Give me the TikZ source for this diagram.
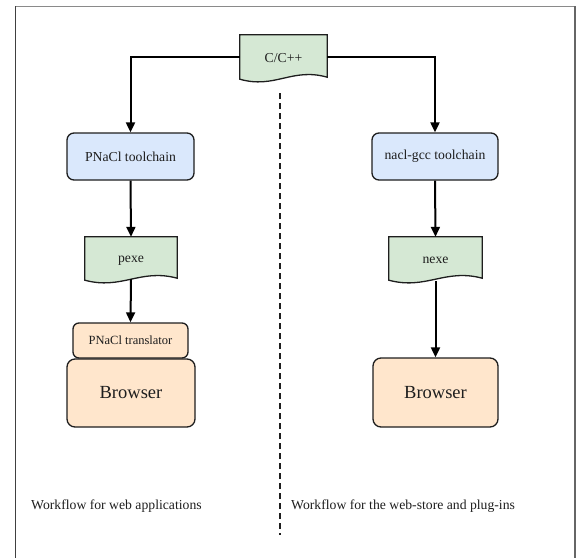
\documentclass[tikz,border=0pt]{standalone}
\usepackage{fontspec}
\setmainfont{Liberation Serif}
\usetikzlibrary{arrows.meta,calc}
\definecolor{docgreen}{HTML}{D5E8D4}
\definecolor{tcblue}{HTML}{DAE8FC}
\definecolor{brorange}{HTML}{FFE6CC}
\definecolor{edge}{HTML}{1E1E1E}
\definecolor{framegrey}{HTML}{8A8A8A}
\begin{document}
\begin{tikzpicture}[x=1pt,y=-1pt,
  base/.style={font=\fontsize{13.7}{15}\selectfont, text=edge, inner sep=0pt},
  docnode/.style={base},
  docdraw/.style={draw=edge, fill=docgreen, line width=1.3pt},
  tcbox/.style={base, draw=edge, fill=tcblue, line width=1.3pt, rounded corners=7pt},
  brbox/.style={base, draw=edge, fill=brorange, line width=1.3pt, rounded corners=8pt},
  arr/.style={line width=2pt, black, -{Triangle[length=10pt,width=9pt]}},
  caption/.style={base, anchor=west},
]
\useasboundingbox (0,0) rectangle (579,558);
% frame
\draw[framegrey, line width=1.8pt] (15,6.5) -- (575,6.5);
\draw[black!75, line width=1.6pt] (15.5,6) -- (15.5,558);
\draw[black!60, line width=1.6pt] (575,6) -- (575,558);
% dashed separator
\coordinate (dtop) at (280,93);
\coordinate (dbot) at (280,535);
\draw[edge, line width=1.4pt, dash pattern=on 6pt off 4pt] (dtop) -- (dbot);

\newcommand\docbody[1]{%
  \filldraw[docdraw] (#1.south west) -- (#1.north west) -- (#1.north east) -- ($(#1.south east)+(0,-2)$)
    .. controls ($(#1.south east)!0.4!(#1.south west)+(0,-12)$) and ($(#1.south west)!0.4!(#1.south east)+(0,10)$) .. (#1.south west) -- cycle;}

% nodes
\node[docnode, minimum width=87pt, minimum height=44pt] (cpp) at (283.5,57) {};
\docbody{cpp}
\node[base] at ([yshift=-1pt]cpp) {C/C++};

\node[tcbox, minimum width=127pt, minimum height=47pt] (pnacltc) at (130.5,156.5) {PNaCl toolchain};
\node[tcbox, minimum width=126pt, minimum height=47pt] (naclgcc) at (435,156.5) {nacl-gcc toolchain};

\node[docnode, minimum width=92pt, minimum height=43pt] (pexe) at (131,258.5) {};
\docbody{pexe}
\node[base] at ([yshift=-2pt]pexe) {pexe};
\node[docnode, minimum width=93pt, minimum height=43pt] (nexe) at (435.5,258.5) {};
\docbody{nexe}
\node[base] at ([yshift=-2pt]nexe) {nexe};

\node[brbox, minimum width=128pt, minimum height=68pt, font=\fontsize{18.5}{22}\selectfont] (browserL) at (131,393) {Browser};
\node[brbox, minimum width=115pt, minimum height=35pt, rounded corners=6pt, font=\fontsize{12.5}{14}\selectfont] (transl) at (130.5,340.5) {PNaCl translator};
\node[brbox, minimum width=125pt, minimum height=69pt, font=\fontsize{18.5}{22}\selectfont] (browserR) at (435.5,392.5) {Browser};

\node[caption] (labL) at (31,506) {Workflow for web applications};
\node[caption] (labR) at (291,506) {Workflow for the web-store and plug-ins};

% connectors
\draw[arr] (cpp.west) -| (pnacltc.north);
\draw[arr] (cpp.east) -| (naclgcc.north);
\draw[arr] (pnacltc.south) -- (pexe.north);
\draw[arr] ([yshift=1pt]pexe.south) -- (transl.north);
\draw[arr] (naclgcc.south) -- (nexe.north);
\draw[arr] ([yshift=-1pt]nexe.south) -- (browserR.north);
\end{tikzpicture}
\end{document}
